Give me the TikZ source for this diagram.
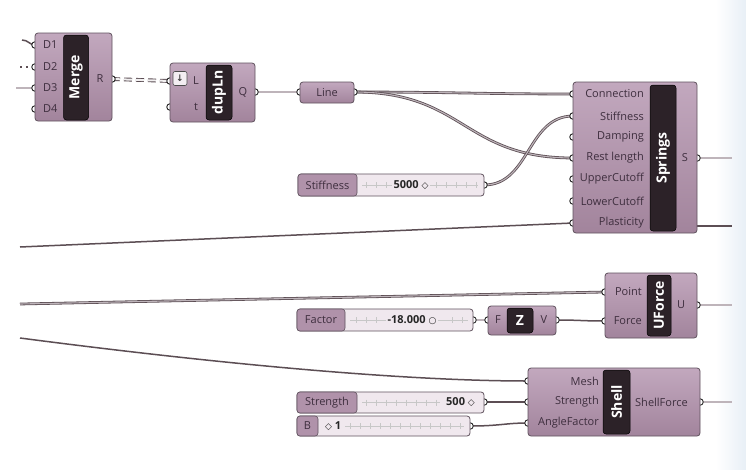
\documentclass[tikz,border=0pt]{standalone}
\usepackage{fontspec}
\setmainfont{Open Sans}
\newfontfamily\symf{DejaVu Sans}
\definecolor{compTop}{RGB}{194,168,190}
\definecolor{compBot}{RGB}{162,132,156}
\definecolor{compLine}{RGB}{96,82,94}
\definecolor{stripCol}{RGB}{44,34,40}
\definecolor{txtCol}{RGB}{62,46,62}
\definecolor{wireOut}{RGB}{92,78,84}
\definecolor{wireIn}{RGB}{190,180,186}
\definecolor{slBody}{RGB}{240,232,238}
\definecolor{slLab}{RGB}{176,146,170}
\definecolor{edgeBlue}{RGB}{232,239,246}
\begin{document}
\begin{tikzpicture}[x=1pt,y=-1pt,
  comp/.style={draw=compLine, line width=0.8pt, rounded corners=3pt, top color=compTop, bottom color=compBot, inner sep=0pt, outer sep=0pt},
  strip/.style={fill=stripCol, draw=black, line width=0.5pt, rounded corners=3pt, inner sep=0pt, text=white, font=\bfseries\fontsize{14}{14}\selectfont},
  port/.style={circle, draw=black!85, fill=white, line width=0.9pt, minimum size=6.5pt, inner sep=0pt},
  plab/.style={text=txtCol, font=\fontsize{11}{12}\selectfont, inner sep=0pt},
  wire/.style={draw=wireOut, line width=0.8pt, double=wireIn, double distance=1.1pt},
  thinwire/.style={draw=wireOut, line width=1.5pt},
  slider/.style={draw=compLine, line width=0.8pt, rounded corners=3pt, fill=slBody, inner sep=0pt},
  sllab/.style={draw=compLine, line width=0.6pt, rounded corners=3pt, fill=slLab, inner sep=0pt, text=txtCol, font=\fontsize{11}{12}\selectfont},
  slval/.style={text=black!85, font=\bfseries\fontsize{11}{12}\selectfont, inner sep=0pt},
  tick/.style={draw=black!22, line width=0.5pt}
]
% background
\fill[white] (0,0) rectangle (746,469);
\shade[left color=white, right color=edgeBlue] (716,0) rectangle (746,469);

% ---------- port coordinates ----------
\coordinate (m-d1) at (35,45);
\coordinate (m-d2) at (35,67);
\coordinate (m-d3) at (35,88);
\coordinate (m-d4) at (35,109);
\coordinate (m-r) at (112,79);
\coordinate (d-l) at (170,81);
\coordinate (d-t) at (170,107);
\coordinate (d-q) at (255,92);
\coordinate (ln-i) at (300,92);
\coordinate (ln-o) at (354,92);
\coordinate (st-o) at (484,185);
\coordinate (sp-con) at (573,94);
\coordinate (sp-stf) at (573,116);
\coordinate (sp-dmp) at (573,137);
\coordinate (sp-rst) at (573,158);
\coordinate (sp-up) at (573,179);
\coordinate (sp-lo) at (573,201);
\coordinate (sp-pl) at (573,223);
\coordinate (sp-s) at (697,158);
\coordinate (sp-r2) at (697,226);
\coordinate (uf-pt) at (605,292);
\coordinate (uf-f) at (605,321);
\coordinate (uf-u) at (697,305);
\coordinate (fa-o) at (473,320);
\coordinate (z-f) at (488,320);
\coordinate (z-v) at (556,320);
\coordinate (sh-m) at (528,381);
\coordinate (sh-s) at (528,402);
\coordinate (sh-a) at (528,423);
\coordinate (sh-o) at (700,402);
\coordinate (sg-o) at (484,402);
\coordinate (b-o) at (470,426);
% free wire ends
\coordinate (e1) at (22,40);
\coordinate (e2) at (20,67);
\coordinate (e3) at (16,88);
\coordinate (e4) at (20,247);
\coordinate (e5) at (20,304);
\coordinate (e6) at (20,338);
\coordinate (o1) at (732,158);
\coordinate (o2) at (732,226);
\coordinate (o3) at (732,305);
\coordinate (o4) at (732,402);

% ---------- wires ----------
\draw[thinwire] (e1) .. controls (28,40) and (30,45) .. (m-d1);
\draw[wireOut, line width=1.6pt, dash pattern=on 2pt off 4pt] (e2) -- (m-d2);
\draw[wire] (e3) -- (m-d3);
\draw[draw=wireOut, line width=0.9pt, double=white!80!wireIn, double distance=2pt, dash pattern=on 8pt off 4pt] (m-r) -- (d-l);
\draw[wire] (d-q) -- (ln-i);
\draw[wire] (ln-o) .. controls (450,92) and (480,94) .. (sp-con);
\draw[wire] (ln-o) .. controls (465,92) and (463,158) .. (sp-rst);
\draw[wire] (st-o) .. controls (530,185) and (527,116) .. (sp-stf);
\draw[thinwire] (e4) -- (sp-pl);
\draw[wire] (sp-s) -- (o1);
\draw[thinwire] (sp-r2) -- (o2);
\draw[wire] (e5) -- (uf-pt);
\draw[wire] (fa-o) -- (z-f);
\draw[thinwire] (z-v) .. controls (580,320) and (582,321) .. (uf-f);
\draw[wire] (uf-u) -- (o3);
\draw[thinwire] (e6) .. controls (250,368) and (420,381) .. (sh-m);
\draw[thinwire] (sg-o) -- (sh-s);
\draw[thinwire] (b-o) .. controls (500,426) and (505,423) .. (sh-a);
\draw[wire] (sh-o) -- (o4);

% ---------- grips ----------
\foreach \p in {m-d1,m-d2,m-d3,m-d4,m-r,d-l,d-t,d-q,ln-i,ln-o,st-o,sp-con,sp-stf,sp-dmp,sp-rst,sp-up,sp-lo,sp-pl,sp-s,uf-pt,uf-f,uf-u,fa-o,z-f,z-v,sh-m,sh-s,sh-a,sh-o,sg-o,b-o}
  \node[port] (g-\p) at (\p) {};

% ---------- Merge ----------
\node[comp, minimum width=77pt, minimum height=88pt] (merge) at (73.5,77) {};
\node[strip, rotate=90, minimum width=85pt, minimum height=25pt] (merge-s) at (76,77.5) {Merge};
\node[plab, anchor=west] (m-l1) at (43,45) {D1};
\node[plab, anchor=west] (m-l2) at (43,67) {D2};
\node[plab, anchor=west] (m-l3) at (43,88) {D3};
\node[plab, anchor=west] (m-l4) at (43,109) {D4};
\node[plab] (m-lr) at (100,79) {R};

% ---------- dupLn ----------
\node[comp, minimum width=85pt, minimum height=59pt] (dup) at (212.5,92.5) {};
\node[strip, rotate=90, minimum width=55pt, minimum height=26pt] (dup-s) at (219,92.5) {dupLn};
\node[draw=black!70, fill=white!80!compTop, rounded corners=2pt, line width=0.6pt, minimum size=14pt, inner sep=0pt, font=\symf\bfseries\small, text=black!75] (dup-ic) at (180,78.5) {↓};
\node[plab] (d-ll) at (196,81) {L};
\node[plab] (d-lt) at (196,107) {t};
\node[plab] (d-lq) at (243,92) {Q};

% ---------- Line ----------
\node[comp, minimum width=54pt, minimum height=21pt, font=\fontsize{11}{12}\selectfont, text=txtCol] (line) at (327,92.5) {Line};

% ---------- Stiffness slider ----------
\node[slider, minimum width=186pt, minimum height=22pt] (stf) at (391,185) {};
\node[sllab, minimum width=59pt, minimum height=22pt] (stf-l) at (327.5,185) {Stiffness};
\draw[tick] (362,185) -- (478,185);
\foreach \x in {366,376,386,436,446,456,466,476} \draw[tick] (\x,182) -- (\x,188);
\node[slval, fill=slBody, inner xsep=2pt] (stf-v) at (411,185) {5000 {\symf\small ◇}};

% ---------- Springs ----------
\node[comp, minimum width=124pt, minimum height=151pt] (spr) at (635,157.5) {};
\node[strip, rotate=90, minimum width=146pt, minimum height=26pt] (spr-s) at (663,158) {Springs};
\node[plab, anchor=east] (sp-l1) at (644,94) {Connection};
\node[plab, anchor=east] (sp-l2) at (644,116) {Stiffness};
\node[plab, anchor=east] (sp-l3) at (644,137) {Damping};
\node[plab, anchor=east] (sp-l4) at (644,158) {Rest length};
\node[plab, anchor=east] (sp-l5) at (644,179) {UpperCutoff};
\node[plab, anchor=east] (sp-l6) at (644,201) {LowerCutoff};
\node[plab, anchor=east] (sp-l7) at (644,223) {Plasticity};
\node[plab] (sp-ls) at (685,158) {S};

% ---------- UForce ----------
\node[comp, minimum width=92pt, minimum height=65pt] (uf) at (651,305.5) {};
\node[strip, rotate=90, minimum width=61pt, minimum height=24pt] (uf-s) at (659,305.5) {UForce};
\node[plab, anchor=east] (uf-l1) at (642,292) {Point};
\node[plab, anchor=east] (uf-l2) at (642,321) {Force};
\node[plab] (uf-lu) at (681,305) {U};

% ---------- Factor slider ----------
\node[slider, minimum width=176pt, minimum height=22pt] (fac) at (385,320) {};
\node[sllab, minimum width=48pt, minimum height=22pt] (fac-l) at (321,320) {Factor};
\draw[tick] (350,320) -- (468,320);
\foreach \x in {356,366,376,452,462} \draw[tick] (\x,317) -- (\x,323);
\node[slval, fill=slBody, inner xsep=2pt] (fac-v) at (412,320) {-18.000 {\symf\small ○}};

% ---------- Z ----------
\node[comp, minimum width=68pt, minimum height=29pt] (zc) at (522,320.5) {};
\node[strip, minimum width=26pt, minimum height=25pt] (zc-s) at (520,320.5) {Z};
\node[plab] (z-lf) at (498,320) {F};
\node[plab] (z-lv) at (544,320) {V};

% ---------- Shell ----------
\node[comp, minimum width=172pt, minimum height=68pt] (sh) at (614,402) {};
\node[strip, rotate=90, minimum width=64pt, minimum height=27pt] (sh-st) at (616.5,402) {Shell};
\node[plab, anchor=east] (sh-l1) at (599,381) {Mesh};
\node[plab, anchor=east] (sh-l2) at (599,402) {Strength};
\node[plab, anchor=east] (sh-l3) at (599,423) {AngleFactor};
\node[plab, anchor=west] (sh-lo) at (635,402) {ShellForce};

% ---------- Strength slider ----------
\node[slider, minimum width=187pt, minimum height=21pt] (sgs) at (390.5,402.5) {};
\node[sllab, minimum width=60pt, minimum height=21pt] (sgs-l) at (327,402.5) {Strength};
\draw[tick] (362,402.5) -- (440,402.5);
\foreach \x in {366,376,386,396,406,416,426,436} \draw[tick] (\x,399.5) -- (\x,405.5);
\node[slval, anchor=east, fill=slBody, inner xsep=2pt] (sgs-v) at (477,402.5) {500 {\symf\small ◇}};

% ---------- B slider ----------
\node[slider, minimum width=173pt, minimum height=20pt] (bs) at (383.5,426) {};
\node[sllab, minimum width=21pt, minimum height=20pt] (bs-l) at (307.5,426) {B};
\draw[tick] (345,426) -- (464,426);
\foreach \x in {350,360,370,380,390,400,410,420,430,440,450,460} \draw[tick] (\x,423) -- (\x,429);
\node[slval, anchor=west, fill=slBody, inner xsep=2pt] (bs-v) at (323,426) {{\symf\small ◇} 1};
\end{tikzpicture}
\end{document}
